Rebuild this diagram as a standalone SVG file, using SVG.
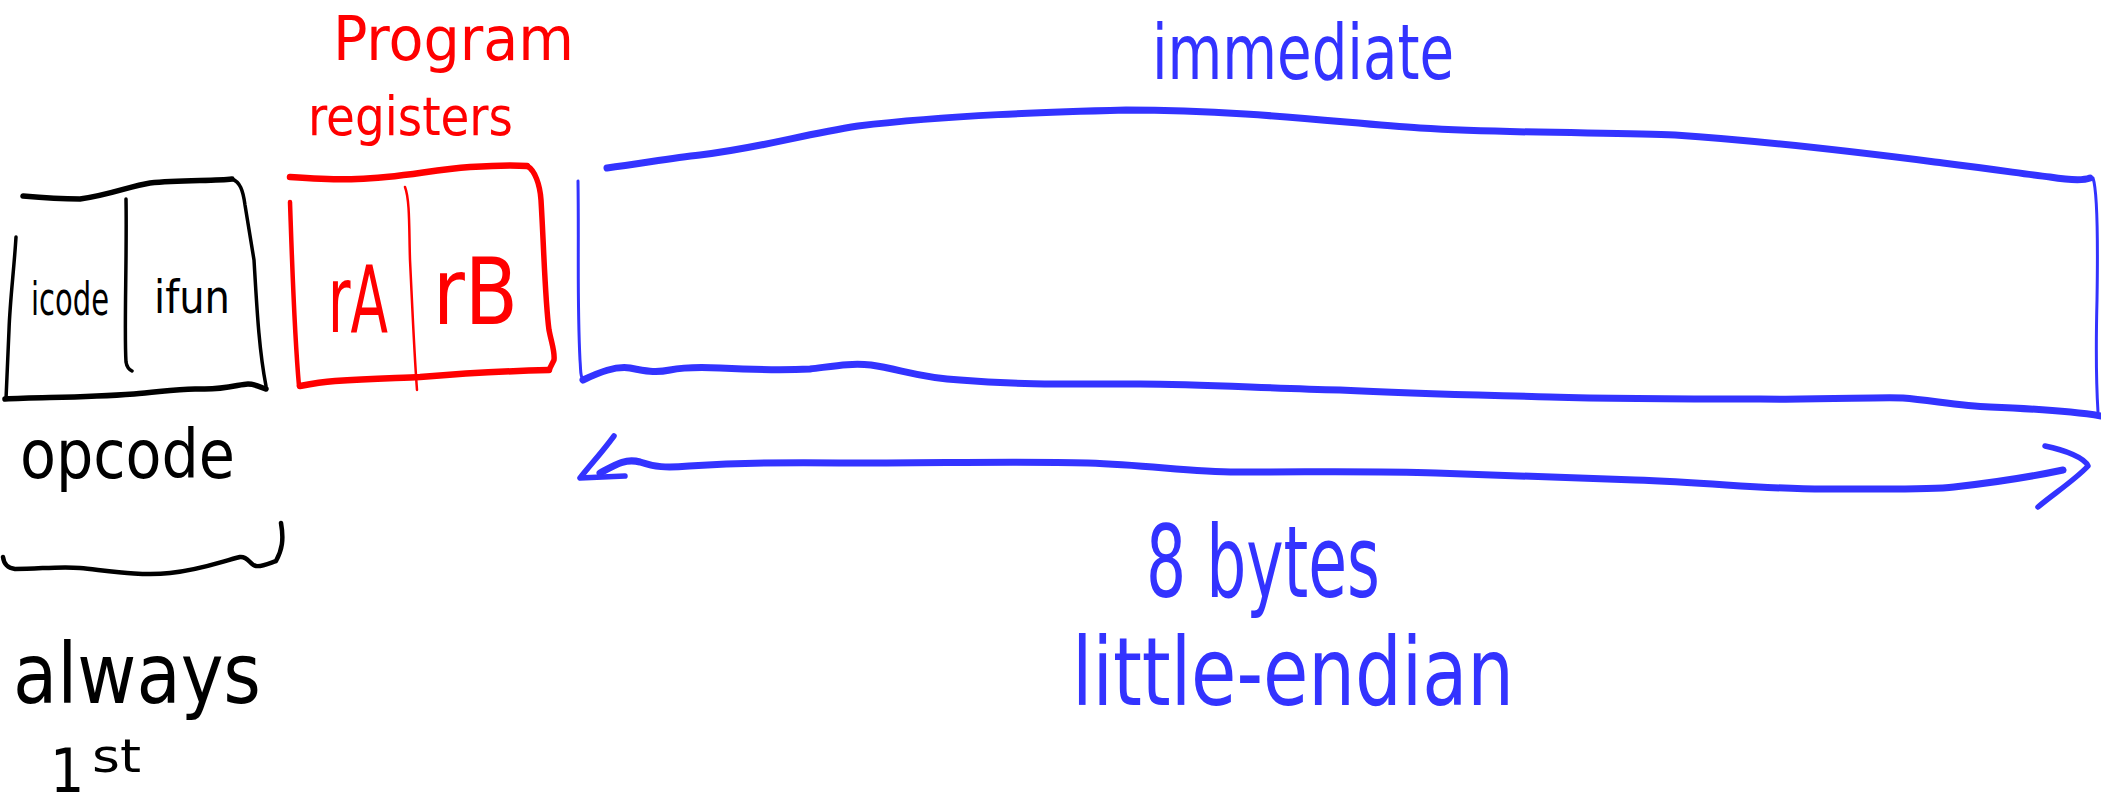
<svg xmlns="http://www.w3.org/2000/svg" width="2101" height="812" viewBox="0 0 2101 812">
<style>
.k{stroke:#000;fill:none;stroke-linecap:round;stroke-linejoin:round}
.r{stroke:#ff0000;fill:none;stroke-linecap:round;stroke-linejoin:round}
.b{stroke:#3333ff;fill:none;stroke-linecap:round;stroke-linejoin:round}
text{font-family:"DejaVu Sans Condensed","Liberation Sans Narrow","DejaVu Sans",sans-serif}
.tk{fill:#000}.tr{fill:#ff0000}.tb{fill:#3333ff}
</style>
<rect width="2101" height="812" fill="#fff"/>
<g id="opcode-box">
<path class="k" stroke-width="5.5" d="M23 196 C45 198,60 199,80 199 C110 195,130 186,150 183 C180 180,215 181,232 179"/>
<path class="k" stroke-width="3.5" d="M232 179 C240 182,243 190,245 205 L254 260 C257 310,259 350,266 386"/>
<path class="k" stroke-width="5.5" d="M5 399 C40 397,80 398,134 394 C160 392,180 388,200 389 C225 390,240 384,248 384 C256 384,262 388,266 389"/>
<path class="k" stroke-width="3.5" d="M16 237 C14 270,10 300,9 330 L6 399"/>
<path class="k" stroke-width="3.5" d="M126 199 C127 260,124 330,126 362 C127 368,130 370,132 371"/>
<text class="tk" x="31" y="315" font-size="46" textLength="78" lengthAdjust="spacingAndGlyphs">icode</text>
<text class="tk" x="154" y="313" font-size="46" textLength="76" lengthAdjust="spacingAndGlyphs">ifun</text>
</g>
<g id="opcode-label">
<text class="tk" x="20" y="478" font-size="68" textLength="215" lengthAdjust="spacingAndGlyphs">opcode</text>
<path class="k" stroke-width="4.5" d="M3 557 C4 565,8 568,15 569 C40 569,60 566,80 568 C110 571,140 576,170 573 C200 570,220 562,240 557 C248 556,250 565,256 566 C262 567,270 563,276 561 C282 550,284 540,281 523"/>
<text class="tk" x="13" y="703" font-size="84" textLength="248" lengthAdjust="spacingAndGlyphs">always</text>
<text class="tk" x="50" y="792" font-size="60">1</text>
<text class="tk" x="92" y="772" font-size="46" textLength="49" lengthAdjust="spacingAndGlyphs">st</text>
</g>
<g id="registers-box">
<text class="tr" x="333" y="60" font-size="60" textLength="241" lengthAdjust="spacingAndGlyphs">Program</text>
<text class="tr" x="308" y="135" font-size="54" textLength="205" lengthAdjust="spacingAndGlyphs">registers</text>
<path class="r" stroke-width="6.5" d="M290 177 C320 179,340 180,357 179 C400 178,430 170,470 167 C500 165,515 165,527 166"/>
<path class="r" stroke-width="5.5" d="M527 166 C535 170,540 185,541 200 C544 250,545 300,549 330 C552 345,555 352,554 360 L549 370"/>
<path class="r" stroke-width="6.5" d="M300 386 C310 384,320 382,335 381 C370 379,400 378,420 377 C470 373,510 371,549 370"/>
<path class="r" stroke-width="4.5" d="M290 202 C292 260,294 330,299 386"/>
<path class="r" stroke-width="2.5" d="M405 187 C410 200,409 230,410 260 C412 300,414 350,417 390"/>
<text class="tr" x="328" y="332" font-size="92" textLength="60" lengthAdjust="spacingAndGlyphs">rA</text>
<text class="tr" x="433" y="324" font-size="92" textLength="85" lengthAdjust="spacingAndGlyphs">rB</text>
</g>
<g id="immediate-box">
<text class="tb" x="1152" y="79" font-size="77" textLength="302" lengthAdjust="spacingAndGlyphs">immediate</text>
<path class="b" stroke-width="7" d="M607 168 C640 164,670 158,700 155 C760 148,800 135,858 126 C950 115,1050 112,1126 110 C1250 110,1350 124,1420 128 C1520 134,1620 132,1675 135 C1780 142,1880 155,1943 163 C2000 170,2030 175,2050 177 C2075 181,2085 180,2090 178"/>
<path class="b" stroke-width="3" d="M2093 178 C2097 190,2098 240,2097 300 C2096 340,2096 380,2098 412"/>
<path class="b" stroke-width="7" d="M583 380 C600 372,615 366,630 368 C645 371,655 373,670 370 C685 367,700 367,720 368 C760 370,790 370,810 369 C835 366,850 363,871 365 C900 369,920 378,960 380 C1020 385,1070 384,1140 384 C1200 384,1260 388,1340 390 C1420 394,1480 395,1550 397 C1620 399,1700 399,1760 399 C1830 400,1870 397,1903 398 C1930 400,1960 406,1990 407 C2040 409,2070 411,2101 416"/>
<path class="b" stroke-width="3" d="M578 181 C579 250,577 300,580 360 C581 372,580 376,583 380"/>
</g>
<g id="connectors">
<path class="b" stroke-width="7" d="M600 473 C615 465,625 458,640 462 C655 467,665 468,689 466 C740 463,780 462,839 463 C950 463,1020 461,1088 463 C1150 465,1190 472,1237 472 C1330 472,1380 471,1436 473 C1520 476,1580 478,1635 480 C1720 483,1770 490,1834 489 C1880 489,1930 490,1954 487 C1990 483,2030 477,2063 470"/>
<path class="b" stroke-width="5.5" d="M614 436 C600 455,590 465,580 478 L625 476"/>
<path class="b" stroke-width="5.5" d="M2045 446 C2065 450,2085 458,2088 466 C2075 480,2052 495,2038 507"/>
</g>
<g id="size-label">
<text class="tb" x="1146" y="597" font-size="100" textLength="234" lengthAdjust="spacingAndGlyphs">8 bytes</text>
<text class="tb" x="1072" y="705" font-size="94" textLength="442" lengthAdjust="spacingAndGlyphs">little-endian</text>
</g>
</svg>
